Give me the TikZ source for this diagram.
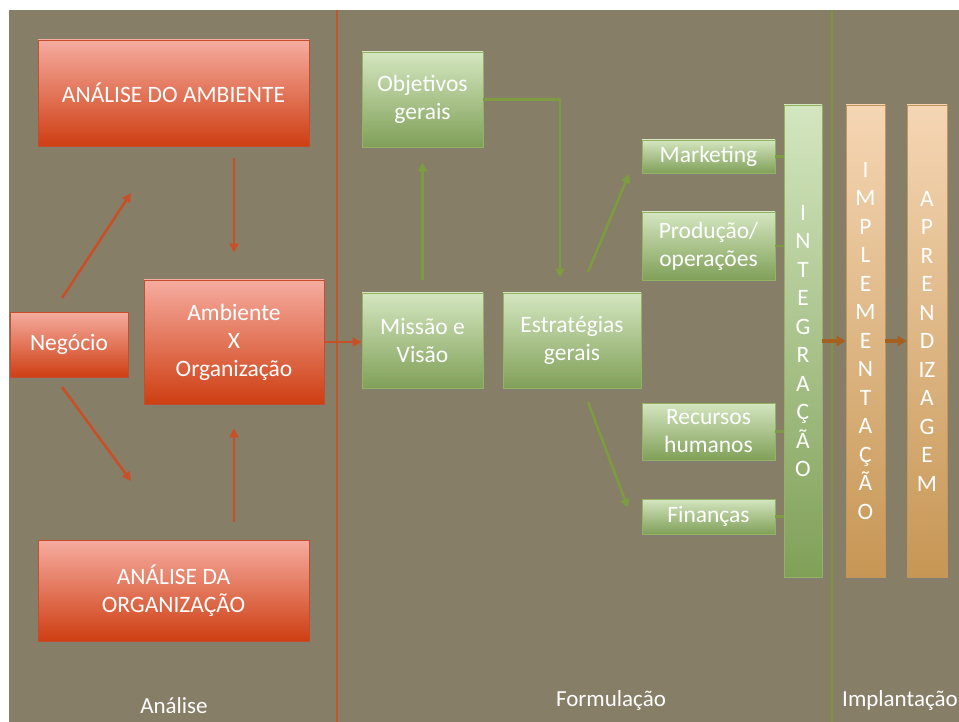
\documentclass[tikz,border=0pt]{standalone}
\usepackage{fontspec}
\setmainfont{Carlito}
\usetikzlibrary{arrows.meta,shadows,calc}

\definecolor{bgcol}{RGB}{134,126,102}
\definecolor{redtop}{RGB}{246,172,160}
\definecolor{redbot}{RGB}{206,62,18}
\definecolor{rededge}{RGB}{196,78,44}
\definecolor{greentop}{RGB}{212,230,192}
\definecolor{greenbot}{RGB}{128,160,88}
\definecolor{greenedge}{RGB}{148,178,100}
\definecolor{tantop}{RGB}{245,214,180}
\definecolor{tanbot}{RGB}{198,150,84}
\definecolor{tanedge}{RGB}{196,150,90}
\definecolor{redarrow}{RGB}{200,80,40}
\definecolor{greenarrow}{RGB}{125,155,65}
\definecolor{brownarrow}{RGB}{165,95,30}
\definecolor{reddiv}{RGB}{195,85,40}
\definecolor{greendiv}{RGB}{125,150,60}

\begin{document}
\begin{tikzpicture}[x=1pt,y=-1pt,
  txt/.style={text=white,font=\fontsize{23.5}{28}\selectfont,align=center,inner sep=0pt},
  vtxt/.style={txt,font=\fontsize{23.5}{28.5}\selectfont},
  boxshadow/.style={drop shadow={opacity=0.35,shadow xshift=2pt,shadow yshift=-2.5pt}},
  redbox/.style={txt,boxshadow,draw=rededge,line width=0.8pt,top color=redtop,bottom color=redbot},
  greenbox/.style={txt,boxshadow,draw=greenedge,line width=0.8pt,top color=greentop,bottom color=greenbot},
  tanbar/.style={vtxt,boxshadow,draw=tanedge,line width=0.8pt,top color=tantop,bottom color=tanbot},
  greenbar/.style={vtxt,boxshadow,draw=greenedge,line width=0.8pt,top color=greentop,bottom color=greenbot},
  rarrow/.style={draw=redarrow,line width=2.6pt,-{Triangle[length=9pt,width=9pt]}},
  garrow/.style={draw=greenarrow,line width=2.6pt,-{Triangle[length=9pt,width=9pt]}},
  gline/.style={draw=greenarrow,line width=2.2pt},
  barrow/.style={draw=brownarrow,line width=3.5pt,-{Triangle[length=9pt,width=10pt]}},
  phase/.style={text=white,font=\fontsize{23}{28}\selectfont,inner sep=0pt}
]
\useasboundingbox (0,0) rectangle (959,722);
\fill[white] (0,0) rectangle (959,722);
\fill[bgcol] (9,10) rectangle (959,722);

% phase dividers
\coordinate (redTop) at (337,10);
\coordinate (redBottom) at (337,722);
\coordinate (greenTop) at (832,10);
\coordinate (greenBottom) at (832,722);
\draw[reddiv,line width=2.4pt] (redTop) -- (redBottom);
\draw[greendiv,line width=2.8pt] (greenTop) -- (greenBottom);

% analysis boxes
\node[redbox,minimum width=271pt,minimum height=106pt] (amb) at (173.5,93) {ANÁLISE DO AMBIENTE};
\node[redbox,minimum width=118pt,minimum height=65pt] (neg) at (69,344.5) {Negócio};
\node[redbox,minimum width=180pt,minimum height=124pt] (axo) at (234,342) {Ambiente\\X\\Organização};
\node[redbox,minimum width=271pt,minimum height=101pt] (org) at (173.5,590.5) {ANÁLISE DA\\ORGANIZAÇÃO};

% formulation boxes
\node[greenbox,minimum width=121pt,minimum height=95pt] (obj) at (422.5,99.5) {Objetivos\\gerais};
\node[greenbox,minimum width=121pt,minimum height=95pt] (mis) at (422.5,340.5) {Missão e\\Visão};
\node[greenbox,minimum width=138pt,minimum height=95pt] (est) at (572,340.5) {Estratégias\\gerais};
\node[greenbox,minimum width=133pt,minimum height=33pt] (mkt) at (708.5,156.5) {Marketing};
\node[greenbox,minimum width=133pt,minimum height=68pt] (prod) at (708.5,246) {Produção/\\operações};
\node[greenbox,minimum width=133pt,minimum height=57pt] (rh) at (708.5,431.5) {Recursos\\humanos};
\node[greenbox,minimum width=133pt,minimum height=35pt] (fin) at (708.5,516.5) {Finanças};

% vertical bars
\node[greenbar,minimum width=38pt,minimum height=472pt] (integ) at (803,341) {I\\N\\T\\E\\G\\R\\A\\Ç\\Ã\\O};
\node[tanbar,minimum width=39pt,minimum height=472pt] (impl) at (865.5,341) {I\\M\\P\\L\\E\\M\\E\\N\\T\\A\\Ç\\Ã\\O};
\node[tanbar,minimum width=40pt,minimum height=472pt] (apr) at (927,341) {A\\P\\R\\E\\N\\D\\IZ\\A\\G\\E\\M};

% analysis arrows
\coordinate (negUpStart) at (62,298);
\coordinate (negUpEnd) at (131,193);
\coordinate (negDownStart) at (62,387);
\coordinate (negDownEnd) at (131,481);
\draw[rarrow] (negUpStart) -- (negUpEnd);
\draw[rarrow] (negDownStart) -- (negDownEnd);
\draw[rarrow,shorten <=12pt,shorten >=27pt] (axo.north |- amb.south) -- (axo.north);
\draw[rarrow,shorten <=18pt,shorten >=24pt] (axo.south |- org.north) -- (axo.south);
\draw[rarrow] (axo.east) -- (axo.east -| mis.west);

% formulation arrows
\draw[garrow,shorten <=13pt,shorten >=15pt] (mis.north) -- (obj.south);
\draw[garrow] (obj.east) -| ($(est.north)+(-12,-15)$);
\coordinate (estUpStart) at (588,272);
\coordinate (estUpEnd) at (629,174);
\coordinate (estDownStart) at (588,402);
\coordinate (estDownEnd) at (628,508);
\draw[garrow] (estUpStart) -- (estUpEnd);
\draw[garrow] (estDownStart) -- (estDownEnd);

% links into integration
\draw[gline] (mkt.east) -- (mkt.east -| integ.west);
\draw[gline] (prod.east) -- (prod.east -| integ.west);
\draw[gline] (rh.east) -- (rh.east -| integ.west);
\draw[gline] (fin.east) -- (fin.east -| integ.west);

% implementation arrows
\draw[barrow] (integ.east) -- (impl.west);
\draw[barrow] (impl.east) -- (apr.west);

% phase labels
\node[phase] (lblAnalise) at (174,706) {Análise};
\node[phase] (lblFormulacao) at (611,700) {Formulação};
\node[phase,anchor=west] (lblImplantacao) at (842,700) {Implantação};
\end{tikzpicture}
\end{document}
